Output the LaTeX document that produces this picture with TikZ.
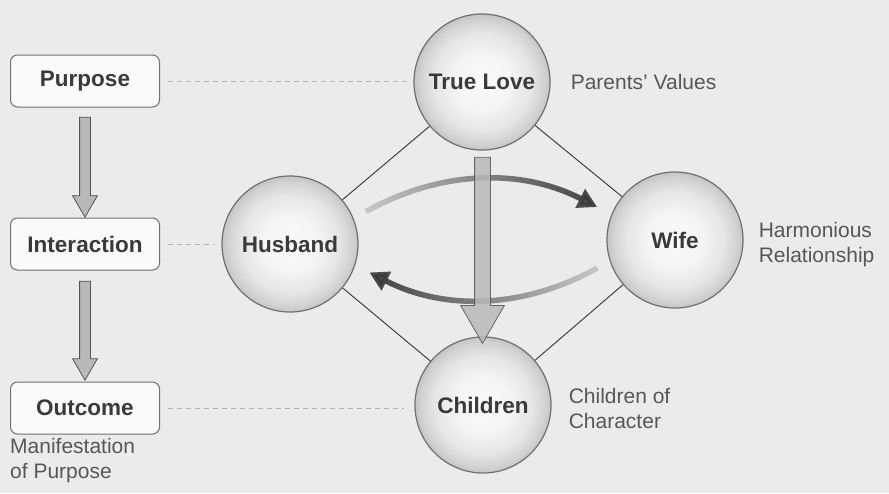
\documentclass[tikz,border=0pt]{standalone}
\usepackage{fontspec}
\setmainfont{Liberation Sans}
\usetikzlibrary{positioning,arrows.meta,shapes.arrows,calc,fadings}

\definecolor{bg}{HTML}{EBEBEB}
\definecolor{ink}{HTML}{3A3A3A}
\definecolor{rim}{HTML}{707070}

\pgfdeclareradialshading{orbshade}{\pgfpoint{0bp}{0bp}}{%
  color(0bp)=(gray!4); color(10bp)=(gray!8); color(18bp)=(gray!20);
  color(23bp)=(gray!36); color(25bp)=(gray!46); color(50bp)=(gray!46)}

\pgfdeclarelayer{paper}
\pgfdeclarelayer{lines}
\pgfsetlayers{paper,lines,main}

\begin{document}
\begin{tikzpicture}[
    x = 1pt, y = -1pt,
    font = \fontsize{21}{25}\selectfont, text = ink!85,
    orb/.style = {circle, draw=rim, line width=1.2pt, minimum size=136pt, shading=orbshade, text=ink, font=\fontsize{22.5}{26}\selectfont\bfseries},
    stage/.style = {draw=rim, fill=gray!4, rounded corners=7pt, line width=1pt, minimum width=149pt, minimum height=52pt, text=ink, font=\fontsize{22.5}{26}\selectfont\bfseries},
    note/.style = {align=left, anchor=west, inner sep=0pt},
    downarrow/.style = {single arrow, rotate=-90, draw=gray!65!black, fill=gray!55, line width=0.8pt, inner sep=0pt, minimum width=0pt, single arrow tip angle=60},
    link/.style = {draw=gray!40!black, line width=0.9pt},
    guide/.style = {draw=gray!60, line width=0.8pt, dash pattern=on 5pt off 4pt},
    swing/.style = {draw=gray!38, line width=5.5pt, -{Triangle[width=20pt,length=19pt]},
                    postaction={draw=gray!45!black, path fading=#1}}
]
\useasboundingbox (0,0) rectangle (889,493);
\begin{pgfonlayer}{paper}
\fill[bg] (0,0) rectangle (889,493);
\end{pgfonlayer}

% circles
\node (tl) [orb] at (482,82) {True Love};
\node (hb) [orb] at (290,244) {Husband};
\node (wf) [orb] at (675,240) {Wife};
\node (ch) [orb] at (483,405) {Children};

% stages on the left
\node (pur) [stage] at (85,81) {Purpose};
\node (int) [stage] at (85,244) {Interaction};
\node (out) [stage] at (85,408) {Outcome};

% side notes
\node (pv) [note, right=20pt of tl] {Parents' Values};
\node (hr) [note, right=15pt of wf, yshift=-5pt] {Harmonious\\Relationship};
\node (cc) [note, right=17pt of ch, yshift=-3pt] {Children of\\Character};
\node (mp) [note, below=4pt of out.south west, anchor=north west] {Manifestation\\of Purpose};

% diamond
\begin{pgfonlayer}{lines}
\path[link] (tl) -- (hb);
\path[link] (tl) -- (wf);
\path[link] (hb) -- (ch);
\path[link] (wf) -- (ch);
\end{pgfonlayer}

% dashed guides
\path[guide, shorten <=8pt, shorten >=4pt] (pur.east) -- (pur.east -| tl.west);
\path[guide, shorten <=8pt, shorten >=6pt] (int.east) -- (int.east -| hb.west);
\path[guide, shorten <=8pt, shorten >=10pt] (out.east) -- (out.east -| ch.west);

% exchange between husband and wife
\draw[swing=west, shorten <=14pt, shorten >=16pt] (hb.22) to[bend left=28] (wf.158);
\draw[swing=east, shorten <=14pt, shorten >=16pt] (wf.198) to[bend left=28] (hb.-18);

% flow arrows
\node (a1) [downarrow, minimum height=100pt, inner ysep=5pt, single arrow head extend=7pt] at ($(pur.south)!0.5!(int.north)$) {};
\node (a2) [downarrow, minimum height=99pt, inner ysep=5pt, single arrow head extend=7pt] at ($(int.south)!0.5!(out.north)$) {};
\node (a3) [downarrow, opacity=0.85, minimum height=186pt, inner ysep=7.5pt, single arrow head extend=14pt] at ($(tl.south)!0.5!(ch.north)$) {};
\end{tikzpicture}
\end{document}
